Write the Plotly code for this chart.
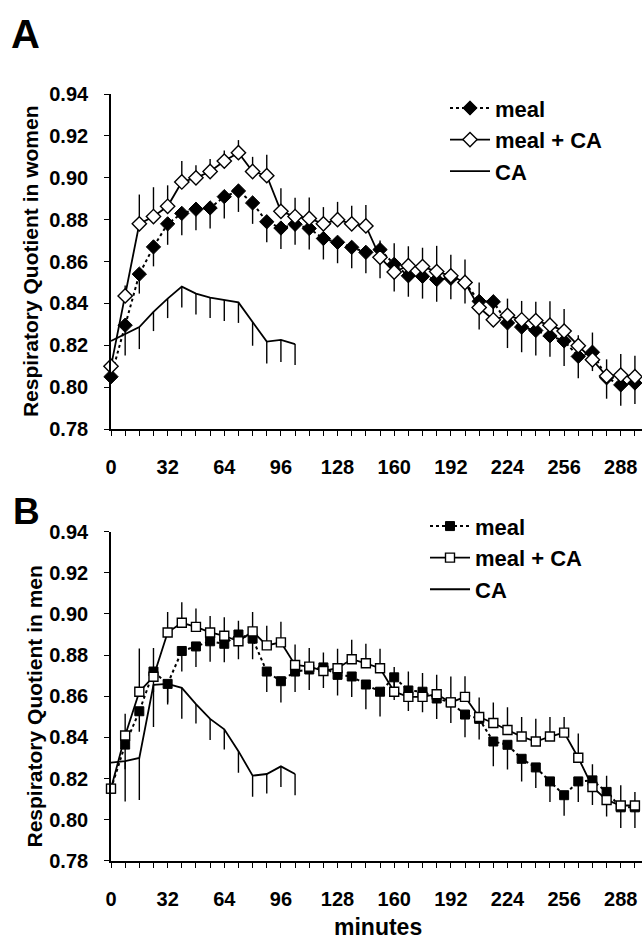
import plotly.graph_objects as go

# ---------------- data ----------------
minutes = list(range(0, 297, 8))          # 0..296, 38 points
minutes_ca = list(range(0, 105, 8))       # 0..104, 14 points

# Panel A (women)
a_meal = [0.805, 0.8296, 0.854, 0.867, 0.878, 0.883, 0.885, 0.8856, 0.891, 0.8937,
          0.888, 0.879, 0.876, 0.8778, 0.8758, 0.871, 0.8692, 0.8668, 0.8644, 0.8657,
          0.8587, 0.8532, 0.8529, 0.8514, 0.852, 0.850, 0.841, 0.8408, 0.8307, 0.8287,
          0.8271, 0.8245, 0.8221, 0.8147, 0.8167, 0.8045, 0.8011, 0.802]
a_meal_err = [0.0, 0.0145, 0.0093, 0.0093, 0.010, 0.0104, 0.010, 0.0098, 0.0104, 0.010,
              0.010, 0.0098, 0.010, 0.0098, 0.010, 0.010, 0.010, 0.010, 0.010, 0.0137,
              0.013, 0.010, 0.0106, 0.0106, 0.010, 0.010, 0.0135, 0.012, 0.012, 0.012,
              0.012, 0.010, 0.012, 0.0104, 0.009, 0.010, 0.010, 0.010]
a_mealca = [0.810, 0.8436, 0.878, 0.8815, 0.8864, 0.898, 0.900, 0.903, 0.908, 0.912,
            0.903, 0.901, 0.884, 0.8815, 0.8806, 0.878, 0.880, 0.878, 0.877, 0.862,
            0.855, 0.858, 0.8576, 0.8552, 0.8532, 0.850, 0.838, 0.8322, 0.8343, 0.8322,
            0.8318, 0.8296, 0.8268, 0.8198, 0.8131, 0.8053, 0.8058, 0.805]
a_mealca_err = [0.0, 0.005, 0.014, 0.014, 0.010, 0.010, 0.006, 0.006, 0.005, 0.006,
                0.007, 0.010, 0.011, 0.009, 0.010, 0.008, 0.0085, 0.0087, 0.010, 0.008,
                0.0137, 0.0093, 0.009, 0.0123, 0.010, 0.011, 0.012, 0.010, 0.008, 0.009,
                0.009, 0.0115, 0.0106, 0.005, 0.013, 0.008, 0.010, 0.010]
a_ca = [0.8221, 0.8256, 0.8287, 0.836, 0.8423, 0.848, 0.8447, 0.8428, 0.8416, 0.8405,
        0.8311, 0.8218, 0.8226, 0.8206]
a_ca_err = [0.0, 0.0, 0.0105, 0.0092, 0.0093, 0.010, 0.010, 0.0098, 0.010, 0.0098,
            0.0113, 0.0105, 0.0106, 0.010]

# Panel B (men)
b_meal = [0.815, 0.8365, 0.8527, 0.872, 0.866, 0.882, 0.8842, 0.8867, 0.8855, 0.890,
          0.888, 0.872, 0.8673, 0.872, 0.873, 0.874, 0.8704, 0.8696, 0.8657, 0.8622,
          0.8692, 0.8628, 0.8622, 0.8589, 0.857, 0.8511, 0.849, 0.838, 0.8364, 0.8296,
          0.8254, 0.8186, 0.8119, 0.8186, 0.8191, 0.8135, 0.806, 0.806]
b_meal_err = [0.0, 0.012, 0.010, 0.010, 0.009, 0.010, 0.010, 0.010, 0.009, 0.012,
              0.010, 0.010, 0.0103, 0.010, 0.010, 0.010, 0.010, 0.010, 0.012, 0.012,
              0.011, 0.010, 0.010, 0.010, 0.010, 0.011, 0.010, 0.012, 0.012, 0.011,
              0.010, 0.010, 0.010, 0.010, 0.012, 0.012, 0.010, 0.010]
b_mealca = [0.8151, 0.8409, 0.8622, 0.8695, 0.891, 0.8957, 0.8937, 0.891, 0.8894, 0.8867,
            0.8915, 0.8847, 0.8862, 0.8752, 0.8744, 0.8723, 0.8736, 0.878, 0.876, 0.8736,
            0.8622, 0.8597, 0.8597, 0.861, 0.857, 0.8597, 0.8499, 0.847, 0.8436, 0.8404,
            0.838, 0.8404, 0.8423, 0.8301, 0.8159, 0.8096, 0.8069, 0.8069]
b_mealca_err = [0.0, 0.0106, 0.021, 0.014, 0.010, 0.010, 0.009, 0.008, 0.009, 0.010,
                0.0095, 0.0095, 0.010, 0.010, 0.009, 0.009, 0.0095, 0.0095, 0.0095, 0.0095,
                0.012, 0.0123, 0.0116, 0.0095, 0.0126, 0.010, 0.0095, 0.010, 0.011, 0.0095,
                0.011, 0.0095, 0.0076, 0.0118, 0.011, 0.0118, 0.0098, 0.0066]
b_ca = [0.8277, 0.8285, 0.830, 0.8655, 0.866, 0.8641, 0.8562, 0.849, 0.8439, 0.8333,
        0.8214, 0.8222, 0.8259, 0.8222]
b_ca_err = [0.0, 0.0197, 0.0204, 0.0205, 0.010, 0.015, 0.0095, 0.0103, 0.0098, 0.0105,
            0.0103, 0.0095, 0.010, 0.0103]

series_names = ["meal", "meal + CA", "CA"]
y_titles = ["Respiratory Quotient in women", "Respiratory Quotient in men"]
panel_letters = ["A", "B"]
x_title = "minutes"

# ---------------- figure ----------------
W, H = 642, 949
L, R = 111, 0
PW = W - L - R
FONT = "Liberation Sans, Arial, Helvetica, sans-serif"
fig = go.Figure()


def px_x(p):
    return (p - L) / PW


def px_y(p):
    return 1 - p / H


def err(up=None, down=None, n=0):
    return dict(type="data", symmetric=False,
                array=up if up is not None else [0] * n,
                arrayminus=down if down is not None else [0] * n,
                width=0, thickness=1.4, color="black")


def add_panel(xa, ya, legend, meal, meal_err, mealca, mealca_err, ca, ca_err, sym):
    n = len(minutes)
    msize = 11 if sym == "diamond" else 9
    fig.add_trace(go.Scatter(
        x=minutes, y=meal, name=series_names[0], mode="lines+markers",
        xaxis=xa, yaxis=ya, legend=legend,
        line=dict(color="black", width=2, dash="dot"),
        marker=dict(symbol=sym, size=msize, color="black",
                    line=dict(color="black", width=1)),
        error_y=err(down=meal_err, n=n), cliponaxis=False))
    fig.add_trace(go.Scatter(
        x=minutes, y=mealca, name=series_names[1], mode="lines+markers",
        xaxis=xa, yaxis=ya, legend=legend,
        line=dict(color="black", width=1.8),
        marker=dict(symbol=sym, size=msize, color="white",
                    line=dict(color="black", width=1.4)),
        error_y=err(up=mealca_err, n=n), cliponaxis=False))
    fig.add_trace(go.Scatter(
        x=minutes_ca, y=ca, name=series_names[2], mode="lines",
        xaxis=xa, yaxis=ya, legend=legend,
        line=dict(color="black", width=1.8),
        error_y=err(down=ca_err, n=len(minutes_ca)), cliponaxis=False))


add_panel("x", "y", "legend", a_meal, a_meal_err, a_mealca, a_mealca_err,
          a_ca, a_ca_err, "diamond")
add_panel("x2", "y2", "legend2", b_meal, b_meal_err, b_mealca, b_mealca_err,
          b_ca, b_ca_err, "square")

xcommon = dict(range=[0, 300], tickmode="linear", tick0=0, dtick=32,
               ticks="outside", ticklen=5, tickwidth=1.4, tickcolor="black",
               minor=dict(tick0=0, dtick=8, ticks="outside", ticklen=5,
                          tickwidth=1.4, tickcolor="black"),
               showline=True, linecolor="black", linewidth=1.6,
               showgrid=False, zeroline=False, ticklabelstandoff=14,
               tickfont=dict(size=20))
ycommon = dict(range=[0.78, 0.94], tickmode="linear", tick0=0.78, dtick=0.02,
               tickformat=".2f", ticks="outside", ticklen=5, tickwidth=1.4,
               tickcolor="black", showline=True, linecolor="black", linewidth=1.6,
               showgrid=False, zeroline=False, ticklabelstandoff=12,
               tickfont=dict(size=20))

dA = [px_y(428), px_y(85)]
dB = [px_y(870), px_y(533)]

fig.update_layout(
    width=W, height=H,
    margin=dict(l=L, r=R, t=0, b=0),
    paper_bgcolor="white", plot_bgcolor="white",
    font=dict(family=FONT, size=19, color="black", weight="bold"),
    xaxis=dict(anchor="y", **xcommon),
    yaxis=dict(anchor="x", domain=dA, **ycommon),
    xaxis2=dict(anchor="y2", **xcommon),
    yaxis2=dict(anchor="x2", domain=dB, **ycommon),
    legend=dict(x=px_x(445), y=px_y(78), xanchor="left", yanchor="top",
                font=dict(size=22), bgcolor="rgba(0,0,0,0)", itemwidth=40),
    legend2=dict(x=px_x(425), y=px_y(506), xanchor="left", yanchor="top",
                 font=dict(size=22), bgcolor="rgba(0,0,0,0)", itemwidth=40),
    showlegend=True,
)

annotations = [
    dict(text=panel_letters[0], x=px_x(9), y=px_y(-1), xref="paper", yref="paper",
         xanchor="left", yanchor="top", showarrow=False, font=dict(size=40)),
    dict(text=panel_letters[1], x=px_x(11), y=px_y(489), xref="paper", yref="paper",
         xanchor="left", yanchor="top", showarrow=False, font=dict(size=37)),
    dict(text=y_titles[0], x=px_x(30), y=px_y(256), xref="paper", yref="paper",
         xanchor="center", yanchor="middle", textangle=-90, showarrow=False,
         font=dict(size=21)),
    dict(text=y_titles[1], x=px_x(34), y=px_y(712), xref="paper", yref="paper",
         xanchor="center", yanchor="middle", textangle=-90, showarrow=False,
         font=dict(size=21)),
    dict(text=x_title, x=px_x(378), y=px_y(938), xref="paper", yref="paper",
         xanchor="center", yanchor="middle", showarrow=False, font=dict(size=23)),
]
fig.update_layout(annotations=annotations)

fig.write_html("out.html",
               config={"displayModeBar": False},
               post_script="document.body.style.margin='0';"
                           "document.body.style.overflow='hidden';")
